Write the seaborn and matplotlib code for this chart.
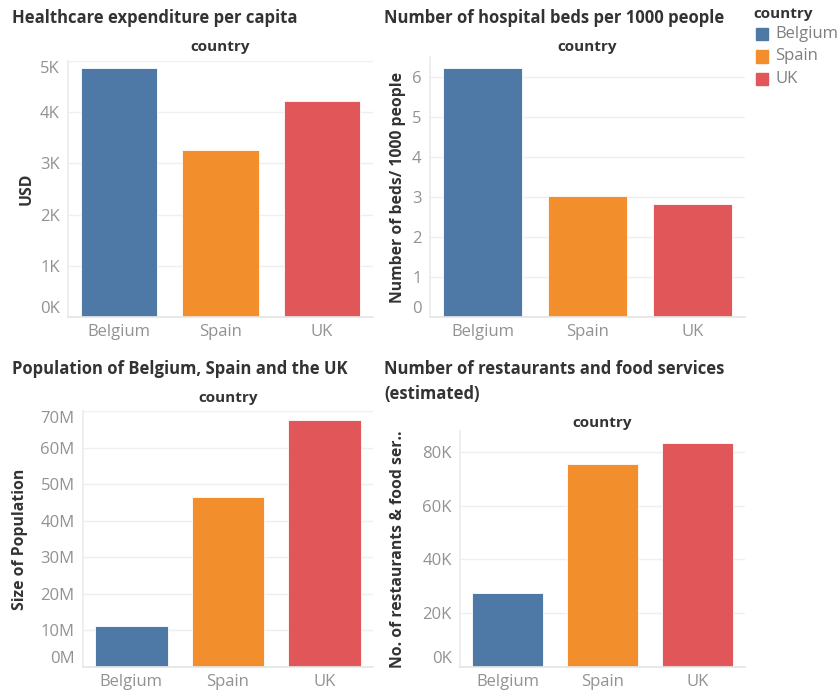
import matplotlib
matplotlib.use("Agg")
import matplotlib.pyplot as plt
import matplotlib.ticker as mticker
from matplotlib.patches import Rectangle
import seaborn as sns

countries = ["Belgium", "Spain", "UK"]
health_usd = [4860, 3270, 4220]
beds_per_1000 = [6.22, 3.02, 2.82]
population = [11.3e6, 46.6e6, 67.6e6]
restaurants = [27700, 75400, 83500]

colors = {"Belgium": "#4e79a7", "Spain": "#f28e2b", "UK": "#e15759"}

W, H = 838, 692
sns.set_theme(style="white")
plt.rcParams["font.family"] = ["Open Sans", "DejaVu Sans"]

fig = plt.figure(figsize=(W / 100, H / 100), dpi=100)

TITLE_C = "#333333"
TICK_C = "#929292"


def px_axes(left, top, right, bottom):
    return fig.add_axes([left / W, 1 - bottom / H, (right - left) / W, (bottom - top) / H])


def panel(box, values, ylim, step, fmt, ylabel, ylabel_x, clamp_top):
    ax = px_axes(*box)
    sns.barplot(x=countries, y=values, hue=countries, palette=colors,
                width=0.75, saturation=1, legend=False, ax=ax,
                edgecolor="white", linewidth=0.6)
    ax.set_xlim(-0.5, 2.5)
    ax.set_ylim(*ylim)
    ax.yaxis.set_major_locator(mticker.MultipleLocator(step))
    ax.yaxis.set_major_formatter(mticker.FuncFormatter(fmt))
    ax.grid(axis="y", color="#efefef", linewidth=1)
    ax.set_axisbelow(True)
    for s in ["top", "right"]:
        ax.spines[s].set_visible(False)
    ax.spines["left"].set_color("#ececec")
    ax.spines["bottom"].set_color("#e6e6e6")
    ax.tick_params(axis="y", length=0, pad=6, labelsize=12, labelcolor=TICK_C)
    ax.tick_params(axis="x", which="major", length=0, pad=5, labelsize=12, labelcolor=TICK_C)
    ax.set_xticks([-0.5, 0.5, 1.5, 2.5], minor=True)
    ax.tick_params(axis="x", which="minor", length=5, color="#e0e0e0", width=1)
    ax.set_xlabel("")
    ax.set_ylabel("")
    fig.canvas.draw()
    # Tableau keeps the end labels inside the pane
    for t in ax.yaxis.get_major_ticks():
        if abs(t.get_loc() - ylim[0]) < 1e-9:
            t.label1.set_va("bottom")
        if clamp_top and abs(t.get_loc() - ylim[1]) < 1e-9:
            t.label1.set_va("top")
    cy = (box[1] + box[3]) / 2
    fig.text(ylabel_x / W, 1 - cy / H, ylabel, rotation=90, ha="center", va="center",
             fontsize=11.3, fontweight="bold", color=TITLE_C)
    return ax


k_fmt = lambda v, p: f"{v / 1000:.0f}K"
m_fmt = lambda v, p: f"{v / 1e6:.0f}M"
n_fmt = lambda v, p: f"{v:.0f}"

panel((68, 61, 373, 317), health_usd, (0, 5000), 1000, k_fmt, "USD", 27, True)
panel((430, 57, 745, 317), beds_per_1000, (0, 6.5), 1, n_fmt,
      "Number of beds/ 1000 people", 398, False)
panel((83, 411, 373, 667), population, (0, 70e6), 10e6, m_fmt, "Size of Population", 20, True)
panel((460, 431, 745, 667), restaurants, (0, 87800), 20000, k_fmt,
      "No. of restaurants & food ser..", 398, False)

# titles
title_kw = dict(fontsize=12, fontweight="bold", color=TITLE_C, ha="left", va="center")
fig.text(12 / W, 1 - 18 / H, "Healthcare expenditure per capita", **title_kw)
fig.text(384 / W, 1 - 18 / H, "Number of hospital beds per 1000 people", **title_kw)
fig.text(12 / W, 1 - 369 / H, "Population of Belgium, Spain and the UK", **title_kw)
fig.text(384 / W, 1 - 369 / H, "Number of restaurants and food services", **title_kw)
fig.text(384 / W, 1 - 394 / H, "(estimated)", **title_kw)

# column headers
head_kw = dict(fontsize=11, fontweight="bold", color=TITLE_C, ha="center", va="center")
fig.text(220 / W, 1 - 47 / H, "country", **head_kw)
fig.text(587 / W, 1 - 47 / H, "country", **head_kw)
fig.text(228 / W, 1 - 398 / H, "country", **head_kw)
fig.text(602 / W, 1 - 423 / H, "country", **head_kw)

# legend
fig.text(753 / W, 1 - 14 / H, "country", fontsize=11, fontweight="bold",
         color=TITLE_C, ha="left", va="center")
for i, c in enumerate(countries):
    yc = 34 + i * 22.5
    fig.patches.append(Rectangle((756 / W, 1 - (yc + 6) / H), 12 / W, 12 / H,
                                 transform=fig.transFigure, color=colors[c], figure=fig))
    fig.text(775 / W, 1 - yc / H, c, fontsize=12, color="#7f7f7f", ha="left", va="center")

fig.savefig("out.png", dpi=100)
